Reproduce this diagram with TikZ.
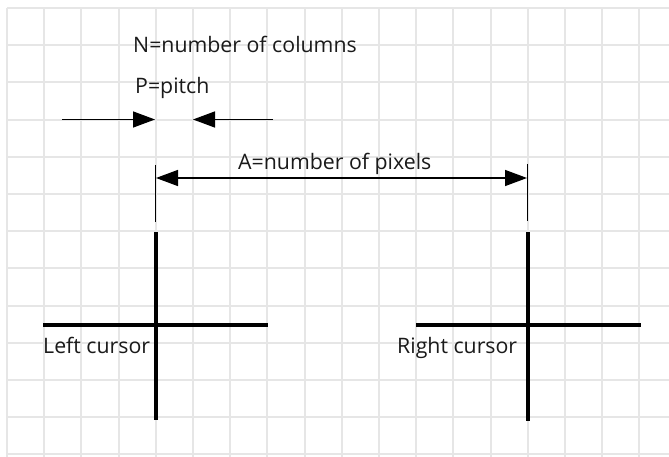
\documentclass[tikz,border=0pt]{standalone}
\usepackage{fontspec}
\setmainfont{Open Sans}
\usetikzlibrary{arrows.meta}
\definecolor{gridgray}{HTML}{E6E6E6}
\definecolor{txt}{HTML}{1A1A1A}
\begin{document}
\begin{tikzpicture}[x=1pt,y=-1pt,
  gridline/.style={draw=gridgray,line width=2pt},
  cursorline/.style={draw=black,line width=4pt},
  thinline/.style={draw=black,line width=1.5pt},
  dimarrow/.style={draw=black,line width=1.5pt,-{Triangle[length=22pt,width=16pt]}},
  dimboth/.style={draw=black,line width=1.5pt,{Triangle[length=22pt,width=16pt]}-{Triangle[length=22pt,width=16pt]}},
  lbl/.style={inner sep=0pt,anchor=base west,text=txt,font=\fontsize{21.3}{25}\selectfont}]
\useasboundingbox (0,0) rectangle (669,457);
\fill[white] (0,0) rectangle (669,457);
% grid
\foreach \i in {0,...,17} \draw[gridline] ({7+37.2*\i},8) -- ({7+37.2*\i},457);
\foreach \j in {0,...,12} \draw[gridline] (7,{8+37.2*\j}) -- (669,{8+37.2*\j});
% labels
\node[lbl] (ncols) at (133,53) {N=number of columns};
\node[lbl] (pitch) at (135,94) {P=pitch};
\node[lbl] (apix) at (238,170) {A=number of pixels};
\node[lbl] (lcur) at (43,353) {Left cursor};
\node[lbl] (rcur) at (397,353) {Right cursor};
% pitch arrows
\coordinate (p1s) at (62,119.5);
\coordinate (p1e) at (155,119.5);
\coordinate (p2s) at (273,119.5);
\coordinate (p2e) at (193,119.5);
\draw[dimarrow] (p1s) -- (p1e);
\draw[dimarrow] (p2s) -- (p2e);
% extension lines and A dimension
\coordinate (exLt) at (155.5,165);
\coordinate (exLb) at (155.5,222);
\coordinate (exRt) at (527.5,164);
\coordinate (exRb) at (527.5,221);
\draw[thinline] (exLt) -- (exLb);
\draw[thinline] (exRt) -- (exRb);
\coordinate (aL) at (156,178);
\coordinate (aR) at (527,178);
\draw[dimboth] (aL) -- (aR);
% left cursor
\coordinate (lcT) at (155.5,232);
\coordinate (lcB) at (155.5,420);
\coordinate (lcL) at (43,325);
\coordinate (lcR) at (268,325);
\draw[cursorline] (lcT) -- (lcB);
\draw[cursorline] (lcL) -- (lcR);
% right cursor
\coordinate (rcT) at (527.5,232);
\coordinate (rcB) at (527.5,421);
\coordinate (rcL) at (416,325);
\coordinate (rcR) at (641,325);
\draw[cursorline] (rcT) -- (rcB);
\draw[cursorline] (rcL) -- (rcR);
\end{tikzpicture}
\end{document}
